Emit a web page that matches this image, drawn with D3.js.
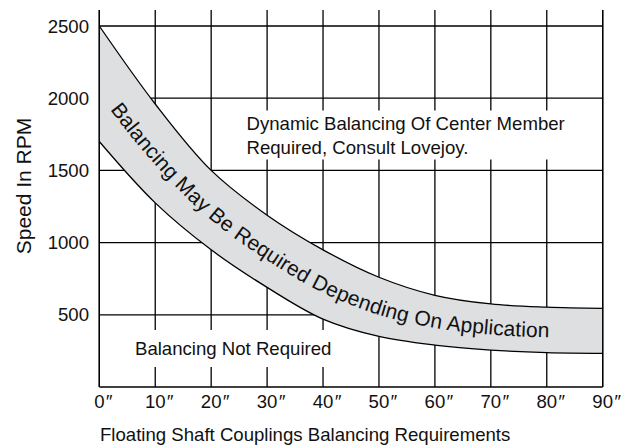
<!DOCTYPE html>
<html>
<head>
<meta charset="utf-8">
<script src="https://cdn.jsdelivr.net/npm/d3@7"></script>
<style>
  html, body { margin: 0; padding: 0; background: #fff; }
  svg { display: block; }
  text { font-family: "Liberation Sans", Arial, Helvetica, sans-serif; fill: #111; }
</style>
</head>
<body>
<svg id="chart" width="625" height="445"></svg>
<script>
// ---- data ----
const xTicks = [0, 10, 20, 30, 40, 50, 60, 70, 80, 90];           // inches
const yTicks = [500, 1000, 1500, 2000, 2500];                      // RPM
const lengthIn = [0, 10, 20, 30, 40, 50, 60, 70, 80, 90];
const upperRPM = [2500, 1960, 1500, 1190, 950, 760, 635, 575, 553, 545];
const lowerRPM = [1700, 1275, 950, 690, 470, 350, 290, 256, 238, 233];
const xTitle = "Floating Shaft Couplings Balancing Requirements";
const yTitle = "Speed In RPM";
const bandLabel = "Balancing May Be Required Depending On Application";
const upperLabel = ["Dynamic Balancing Of Center Member", "Required, Consult Lovejoy."];
const lowerLabel = "Balancing Not Required";

const svg = d3.select("#chart");
const x = d3.scaleLinear().domain([0, 90]).range([99.3, 602.7]);
const y = d3.scaleLinear().domain([0, 2500]).range([387, 26]);
const yTopExt = 2610;
const FS = 18.6;

const grid = svg.append("g").attr("stroke", "#000").attr("stroke-width", 1.3);
grid.selectAll("line.h").data(yTicks).join("line")
  .attr("x1", x(0)).attr("x2", x(90))
  .attr("y1", d => y(d)).attr("y2", d => y(d));
grid.selectAll("line.v").data(xTicks).join("line")
  .attr("x1", d => x(d)).attr("x2", d => x(d))
  .attr("y1", y(yTopExt)).attr("y2", y(0));
grid.append("line").attr("x1", x(0)).attr("x2", x(90)).attr("y1", y(0)).attr("y2", y(0));

// band
const band = lengthIn.map((v, i) => ({ x: v, hi: upperRPM[i], lo: lowerRPM[i] }));
const curve = d3.curveCatmullRom.alpha(0.5);
svg.append("path").datum(band)
  .attr("d", d3.area().x(d => x(d.x)).y0(d => y(d.lo)).y1(d => y(d.hi)).curve(curve))
  .attr("fill", "#dedfe1").attr("stroke", "none");
svg.append("path").datum(band)
  .attr("d", d3.line().x(d => x(d.x)).y(d => y(d.hi)).curve(curve))
  .attr("fill", "none").attr("stroke", "#000").attr("stroke-width", 1.3);
svg.append("path").datum(band)
  .attr("d", d3.line().x(d => x(d.x)).y(d => y(d.lo)).curve(curve))
  .attr("fill", "none").attr("stroke", "#000").attr("stroke-width", 1.3);
svg.append("line").attr("x1", x(0)).attr("x2", x(0)).attr("y1", y(yTopExt)).attr("y2", y(0))
  .attr("stroke", "#000").attr("stroke-width", 1.3);
svg.append("line").attr("x1", x(90)).attr("x2", x(90)).attr("y1", y(yTopExt)).attr("y2", y(0))
  .attr("stroke", "#000").attr("stroke-width", 1.3);

// band label along midline
svg.append("defs").append("path").attr("id", "mid").datum(band)
  .attr("d", d3.line().x(d => x(d.x)).y(d => y((d.hi + d.lo) / 2)).curve(curve));
svg.append("text").attr("font-size", 21).attr("dy", "0.36em")
  .append("textPath").attr("href", "#mid").attr("startOffset", 27)
  .text(bandLabel);

// region labels with white backgrounds
function boxedText(lines, x0, y0, lh, padX, padY) {
  const g = svg.append("g");
  const rect = g.append("rect").attr("fill", "#fff");
  const t = g.append("text").attr("font-size", FS);
  lines.forEach((s, i) => t.append("tspan").attr("x", x0).attr("y", y0 + i * lh).text(s));
  const bb = t.node().getBBox();
  rect.attr("x", bb.x - padX).attr("y", bb.y - padY)
    .attr("width", bb.width + 2 * padX).attr("height", bb.height + 2 * padY);
}
boxedText(upperLabel, 246.5, 129.5, 24, 8, 2);
boxedText([lowerLabel], 135, 355, 0, 8, 8);

// y tick labels
svg.append("g").selectAll("text").data(yTicks).join("text")
  .attr("x", 89).attr("y", d => y(d)).attr("dy", "0.36em")
  .attr("text-anchor", "end").attr("font-size", FS).text(d => d);

// x tick labels: digits centred on tick, inch mark appended
const xl = svg.append("g").selectAll("g").data(xTicks).join("g");
xl.each(function (d) {
  const g = d3.select(this);
  const t = g.append("text").attr("x", x(d)).attr("y", 408)
    .attr("text-anchor", "middle").attr("font-size", FS).text(d);
  const bb = t.node().getBBox();
  g.append("text").attr("x", bb.x + bb.width + 0.5).attr("y", 408)
    .attr("font-size", FS).attr("font-style", "italic").text("\u2033");
});

// axis titles
svg.append("text").attr("x", 100).attr("y", 441).attr("font-size", FS).text(xTitle);
svg.append("text").attr("transform", "translate(31,186) rotate(-90)")
  .attr("text-anchor", "middle").attr("font-size", 21).text(yTitle);
</script>
</body>
</html>
